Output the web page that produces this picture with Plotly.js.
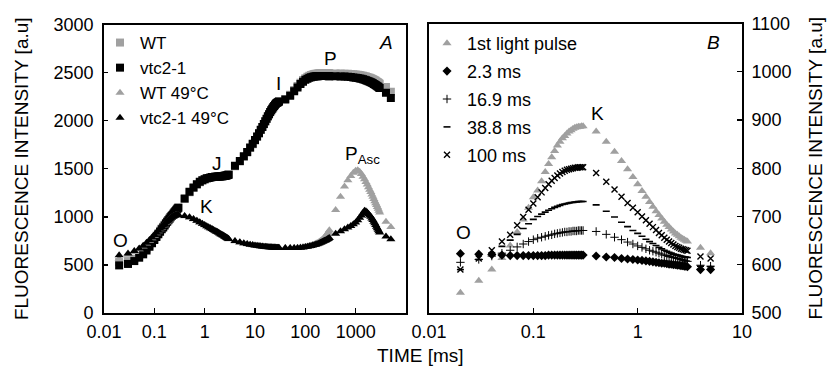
<!DOCTYPE html>
<html>
<head>
<meta charset="utf-8">
<script src="https://cdn.plot.ly/plotly-3.0.1.min.js"></script>
<style>html,body{margin:0;padding:0;background:#fff;}#chart{width:833px;height:367px;}</style>
</head>
<body>
<div id="chart"></div>
<script>
// ---------- Panel A: OJIP transients ----------
const timeA = [0.02,0.03,0.04,0.05,0.06,0.07,0.08,0.09,0.1,0.11,0.12,0.13,0.14,0.15,0.16,0.17,0.18,0.19,0.2,0.21,0.22,0.23,0.24,0.25,0.26,0.27,0.28,0.29,0.3,
  0.4,0.5,0.6,0.7,0.8,0.9,1,1.1,1.2,1.3,1.4,1.5,1.6,1.7,1.8,1.9,2,2.1,2.2,2.3,2.4,2.5,2.6,2.7,2.8,2.9,3,
  4,5,6,7,8,9,10,11,12,13,14,15,16,17,18,19,20,21,22,23,24,25,26,27,28,29,30,
  40,50,60,70,80,90,100,110,120,130,140,150,160,170,180,190,200,210,220,230,240,250,260,270,280,290,300,
  400,500,600,700,800,900,1000,1100,1200,1300,1400,1500,1600,1700,1800,1900,2000,2100,2200,2300,2400,2500,2600,2700,2800,2900,3000,
  4000,5000];

const wt = [530,540,565,595,630,668,705,740,772,802,830,855,878,898,917,935,952,968,983,997,1010,1022,1034,1046,1057,1067,1077,1087,1096,
  1185,1255,1300,1335,1360,1378,1390,1398,1404,1409,1412,1414,1416,1417,1418,1419,1420,1421,1422,1424,1426,1428,1430,1433,1436,1440,1444,
  1525,1575,1625,1670,1715,1755,1795,1832,1868,1902,1933,1963,1992,2018,2043,2066,2088,2106,2123,2138,2152,2164,2175,2183,2190,2196,2202,
  2225,2270,2318,2360,2395,2422,2442,2456,2466,2474,2480,2484,2487,2489,2491,2492,2493,2494,2494,2494,2494,2494,2494,2493,2493,2492,2492,
  2491,2490,2489,2487,2485,2483,2480,2477,2474,2470,2466,2462,2458,2454,2450,2445,2440,2435,2430,2425,2420,2414,2408,2402,2396,2390,2384,
  2350,2300];

const vtc = [495,510,540,575,610,650,690,725,760,790,820,845,870,890,910,930,948,965,980,995,1008,1020,1033,1045,1056,1066,1076,1086,1095,
  1190,1260,1305,1340,1365,1380,1392,1400,1405,1410,1413,1415,1417,1418,1419,1420,1420,1421,1422,1423,1424,1426,1428,1430,1432,1435,1438,
  1530,1580,1630,1675,1720,1760,1800,1835,1870,1905,1935,1965,1995,2020,2045,2068,2090,2108,2125,2140,2153,2165,2175,2183,2190,2195,2200,
  2220,2260,2305,2345,2380,2405,2425,2437,2446,2452,2456,2459,2461,2462,2463,2464,2465,2465,2465,2465,2465,2465,2464,2464,2464,2463,2463,
  2462,2460,2458,2456,2453,2450,2447,2443,2439,2435,2431,2426,2421,2416,2411,2405,2400,2394,2388,2382,2376,2370,2364,2358,2352,2346,2340,
  2290,2235];

const wt49 = [565,605,635,662,692,722,752,778,804,829,850,870,889,906,922,937,950,962,973,983,991,998,1004,1009,1013,1016,1018,1019,1020,
  1005,992,975,958,941,926,913,901,890,880,871,862,854,846,839,832,825,818,812,806,800,794,788,783,778,773,768,
  745,733,723,715,709,704,700,697,694,692,690,688,686,685,684,683,682,681,680,679,679,678,678,677,677,677,677,
  677,677,677,678,680,683,687,691,696,701,707,713,719,726,733,740,748,756,765,774,784,795,806,818,831,845,860,
  1070,1210,1316,1380,1425,1458,1478,1485,1470,1445,1418,1390,1362,1335,1308,1282,1257,1232,1208,1185,1163,1142,1122,1102,1083,1064,1045,
  950,893];

const vtc49 = [600,620,645,670,700,730,760,785,810,835,855,875,893,910,925,940,953,965,975,985,993,1000,1006,1011,1015,1018,1020,1021,1022,
  1008,995,978,960,943,928,915,903,892,882,873,864,856,848,841,834,827,820,814,808,802,796,790,785,780,775,770,
  748,735,725,717,711,706,702,699,696,694,692,690,688,687,686,685,684,683,682,681,680,680,679,679,678,678,678,
  677,676,676,677,679,682,686,690,694,698,703,707,711,716,720,725,730,735,740,745,750,755,760,765,770,775,780,
  825,850,870,888,905,922,942,965,990,1015,1040,1062,1058,1045,1030,1015,1000,983,966,949,932,915,898,882,866,851,838,
  795,768];

// ---------- Panel B: K-step after pulses ----------
const timeB = [0.02,0.03,0.04,0.05,0.06,0.07,0.08,0.09,0.1,0.11,0.12,0.13,0.14,0.15,0.16,0.17,0.18,0.19,0.2,0.21,0.22,0.23,0.24,0.25,0.26,0.27,0.28,0.29,0.3,
  0.4,0.5,0.6,0.7,0.8,0.9,1,1.1,1.2,1.3,1.4,1.5,1.6,1.7,1.8,1.9,2,2.1,2.2,2.3,2.4,2.5,2.6,2.7,2.8,2.9,3,
  4,5];

const pulse1 = [542,567,590,614,640,668,694,718,740,754,773,792,809,823,836,847,855,862,867,872,876,879,882,884,885,886,886,887,887,
  876,855,834,815,798,782,767,753,741,730,720,711,703,696,689,683,678,673,669,665,662,659,656,654,652,650,648,
  635,624];

const ms2_3 = [623,622,621,620,619,619,619,619,619,619,619,619,620,620,620,620,620,620,620,620,620,620,620,620,620,620,620,620,620,
  618,616,615,613,612,611,610,609,608,607,606,605,604,603,603,602,601,601,600,600,599,599,598,598,597,597,596,
  590,590];

const ms16_9 = [605,611,618,624,630,637,643,648,652,655,657,659,661,662,664,665,666,667,668,668,669,669,670,670,670,671,671,671,671,
  669,663,657,652,647,643,639,636,633,630,628,626,624,622,620,619,617,616,615,614,613,612,611,610,609,608,607,
  599,597];

const ms38_8 = [590,611,624,638,651,663,675,685,694,700,705,709,713,716,719,721,723,725,726,727,728,729,729,730,730,731,731,731,731,
  724,711,699,688,679,671,665,659,653,648,644,640,636,633,630,628,626,624,622,621,620,619,618,617,616,616,615,
  597,596];

const ms100 = [590,613,630,648,662,682,699,714,727,740,750,759,767,774,780,785,789,792,795,797,798,799,800,801,801,802,802,802,802,
  790,772,756,741,728,718,709,700,692,685,678,672,666,661,656,652,648,645,642,639,637,635,633,632,631,630,629,
  617,613];

const namesA = ['WT', 'vtc2-1', 'WT 49°C', 'vtc2-1 49°C'];
const namesB = ['1st light pulse', '2.3 ms', '16.9 ms', '38.8 ms', '100 ms'];
const ticksA = [0.01, 0.1, 1, 10, 100, 1000];
const tickTextA = ['0.01', '0.1', '1', '10', '100', '1000'];
const ticksB = [0.01, 0.1, 1, 10];
const tickTextB = ['0.01', '0.1', '1', '10'];

const GRAY = '#a0a0a0';
const BLACK = '#000000';
const FONT = 'Liberation Sans, Arial, sans-serif';

const traces = [
  {x: timeA, y: wt, name: namesA[0], type: 'scatter', mode: 'markers', xaxis: 'x', yaxis: 'y', legend: 'legend',
   marker: {symbol: 'square', size: 8, color: GRAY}},
  {x: timeA, y: vtc, name: namesA[1], type: 'scatter', mode: 'markers', xaxis: 'x', yaxis: 'y', legend: 'legend',
   marker: {symbol: 'square', size: 8, color: BLACK}},
  {x: timeA, y: wt49, name: namesA[2], type: 'scatter', mode: 'markers', xaxis: 'x', yaxis: 'y', legend: 'legend',
   marker: {symbol: 'triangle-up', size: 8, color: GRAY}},
  {x: timeA, y: vtc49, name: namesA[3], type: 'scatter', mode: 'markers', xaxis: 'x', yaxis: 'y', legend: 'legend',
   marker: {symbol: 'triangle-up', size: 8, color: BLACK}},

  {x: timeB, y: pulse1, name: namesB[0], type: 'scatter', mode: 'markers', xaxis: 'x2', yaxis: 'y2', legend: 'legend2', legendgroup: 'b1',
   marker: {symbol: 'triangle-up', size: 8, color: GRAY}},
  {x: timeB, y: ms2_3, name: namesB[1], type: 'scatter', mode: 'markers', xaxis: 'x2', yaxis: 'y2', legend: 'legend2', legendgroup: 'b2',
   marker: {symbol: 'diamond', size: 7, color: BLACK}},
  {x: timeB, y: ms16_9, name: namesB[2], type: 'scatter', mode: 'markers', xaxis: 'x2', yaxis: 'y2', legend: 'legend2', legendgroup: 'b3',
   marker: {symbol: 'cross-thin-open', size: 6, color: BLACK, line: {color: BLACK, width: 1}}},
  {x: timeB, y: ms38_8, name: namesB[3], type: 'scatter', mode: 'markers', xaxis: 'x2', yaxis: 'y2', legend: 'legend2', legendgroup: 'b4',
   marker: {symbol: 'line-ew-open', size: 5, color: BLACK, line: {color: BLACK, width: 1.6}}},
  {x: timeB, y: ms100, name: namesB[4], type: 'scatter', mode: 'markers', xaxis: 'x2', yaxis: 'y2', legend: 'legend2', legendgroup: 'b5',
   marker: {symbol: 'x-thin-open', size: 6, color: BLACK, line: {color: BLACK, width: 1.4}}}
];

const W = 833, H = 367;
const px = v => v / W;
const py = v => (H - v) / H;

const axisCommon = {
  showline: true, mirror: true, linecolor: '#000', linewidth: 1.8,
  showgrid: false, zeroline: false, ticks: 'inside', ticklen: 5, tickwidth: 1.4, tickcolor: '#000',
  tickfont: {family: FONT, size: 18, color: '#000'}
};

const annFont = {family: FONT, size: 19, color: '#000'};
function lab(text, x, y, extra) {
  return Object.assign({text: text, x: px(x), y: py(y), xref: 'paper', yref: 'paper', showarrow: false,
    xanchor: 'center', yanchor: 'middle', font: annFont}, extra || {});
}

const layout = {
  width: W, height: H,
  margin: {l: 0, r: 0, t: 0, b: 0},
  paper_bgcolor: '#fff', plot_bgcolor: '#fff',
  showlegend: true,
  font: {family: FONT, color: '#000'},
  xaxis: Object.assign({}, axisCommon, {
    domain: [px(104), px(406)], anchor: 'y', type: 'log', range: [-2, 4],
    tickvals: ticksA, ticktext: tickTextA, ticklabelstandoff: 2
  }),
  yaxis: Object.assign({}, axisCommon, {
    domain: [py(313), py(24.5)], anchor: 'x', range: [0, 3000], dtick: 500, ticklen: 4,
    ticklabelstandoff: 5,
    title: {text: 'FLUORESCENCE INTENSITY [a.u]', font: {family: FONT, size: 19, color: '#000'}, standoff: 20}
  }),
  xaxis2: Object.assign({}, axisCommon, {
    domain: [px(429), px(742)], anchor: 'y2', type: 'log', range: [-2, 1],
    tickvals: ticksB, ticktext: tickTextB, ticklabelstandoff: 2
  }),
  yaxis2: Object.assign({}, axisCommon, {
    domain: [py(313), py(23.5)], anchor: 'x2', side: 'right', range: [500, 1100], dtick: 100,
    ticklabelstandoff: 4,
    title: {text: 'FLUORESCENCE INTENSITY [a.u]', font: {family: FONT, size: 19, color: '#000'}, standoff: 18}
  }),
  legend: {
    x: px(100), y: py(25), xanchor: 'left', yanchor: 'top',
    bgcolor: 'rgba(0,0,0,0)', borderwidth: 0, itemwidth: 30,
    font: {family: FONT, size: 17, color: '#000'}, tracegroupgap: 0
  },
  legend2: {
    x: px(427), y: py(25), xanchor: 'left', yanchor: 'top',
    bgcolor: 'rgba(0,0,0,0)', borderwidth: 0, itemwidth: 30,
    font: {family: FONT, size: 18, color: '#000'}, tracegroupgap: 1.5
  },
  annotations: [
    lab('TIME [ms]', 420, 355, {font: {family: FONT, size: 19, color: '#000'}}),
    lab('<i>A</i>', 386, 43),
    lab('<i>B</i>', 713, 43),
    lab('O', 120, 240),
    lab('K', 206, 206),
    lab('J', 217, 163),
    lab('I', 278, 83),
    lab('P', 330, 58),
    lab('P<sub>Asc</sub>', 362, 155),
    lab('O', 463, 232),
    lab('K', 597, 113)
  ]
};

Plotly.newPlot('chart', traces, layout, {displayModeBar: false, staticPlot: true});
</script>
</body>
</html>
